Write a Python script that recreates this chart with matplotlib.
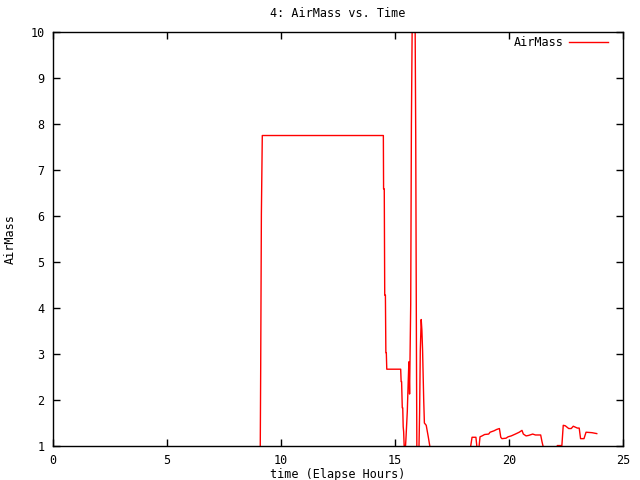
import matplotlib

matplotlib.use("Agg")

import matplotlib.pyplot as plt  # noqa: E402

# Elapsed hours and air mass (values < 1 fall below the axis).
hours = [
    0.0, 9.08, 9.11, 9.14, 9.18, 14.49, 14.5, 14.53, 14.55, 14.58, 14.6,
    14.62, 14.64, 15.25, 15.27, 15.29, 15.32, 15.34, 15.36, 15.38, 15.41,
    15.45, 15.48, 15.54, 15.58, 15.61, 15.64, 15.69, 15.72, 15.76, 15.88,
    15.91, 15.94, 15.96, 16.05, 16.08, 16.11, 16.15, 16.18, 16.21, 16.26,
    16.29, 16.37, 16.46, 16.56, 18.29, 18.38, 18.55, 18.61, 18.67, 18.73,
    18.82, 18.93, 19.11, 19.17, 19.34, 19.46, 19.58, 19.64, 19.69, 19.87,
    19.96, 20.1, 20.28, 20.45, 20.57, 20.63, 20.75, 20.86, 21.04, 21.16,
    21.39, 21.45, 21.54, 22.1, 22.12, 22.32, 22.38, 22.47, 22.62, 22.73,
    22.82, 23.0, 23.08, 23.14, 23.29, 23.38, 23.64, 23.85,
]
airmass = [
    0.0, 0.0, 2.7, 6.04, 7.75, 7.75, 6.59, 6.59, 4.28, 4.28, 3.03,
    3.03, 2.67, 2.67, 2.4, 2.4, 1.83, 1.83, 1.42, 1.31, 0.9,
    0.9, 1.15, 1.75, 2.4, 2.83, 2.13, 4.09, 7.99, 10.5, 10.5,
    7.72, 3.25, 0.9, 0.9, 1.72, 3.07, 3.75, 3.52, 3.09, 2.0,
    1.5, 1.45, 1.2, 0.9, 0.9, 1.19, 1.19, 0.9, 0.9, 1.2,
    1.22, 1.25, 1.26, 1.30, 1.33, 1.36, 1.38, 1.19, 1.16, 1.17,
    1.20, 1.22, 1.26, 1.30, 1.34, 1.26, 1.22, 1.23, 1.26, 1.24,
    1.24, 1.09, 0.9, 0.9, 1.01, 1.01, 1.45, 1.44, 1.38, 1.38,
    1.43, 1.39, 1.39, 1.16, 1.16, 1.30, 1.29, 1.27,
]
x_ticks = [0, 5, 10, 15, 20, 25]
y_ticks = [1, 2, 3, 4, 5, 6, 7, 8, 9, 10]

plt.rcParams["font.family"] = ["DejaVu Sans Mono"]
plt.rcParams["font.size"] = 8.5

fig = plt.figure(figsize=(6.4, 4.8), dpi=100)
ax = fig.add_axes([0.0828, 0.0708, 0.8906, 0.8625])

ax.plot(hours, airmass, color="red", linewidth=1.0, label="AirMass")

ax.set_xlim(0, 25)
ax.set_ylim(1, 10)
ax.set_xticks(x_ticks)
ax.set_yticks(y_ticks)
ax.tick_params(direction="in", length=5, width=1, top=True, right=True, pad=6)

for spine in ax.spines.values():
    spine.set_linewidth(1)

ax.set_title("4: AirMass vs. Time", fontsize=8.5, pad=11)
ax.set_xlabel("time (Elapse Hours)")
ax.xaxis.set_label_coords(0.5, -0.052)
ax.set_ylabel("AirMass", labelpad=10)

leg = ax.legend(loc="upper right", bbox_to_anchor=(0.974, 0.99), frameon=False,
                markerfirst=False, handlelength=3.3, handletextpad=0.5,
                borderaxespad=0, borderpad=0)

fig.savefig("out.png", dpi=100)
